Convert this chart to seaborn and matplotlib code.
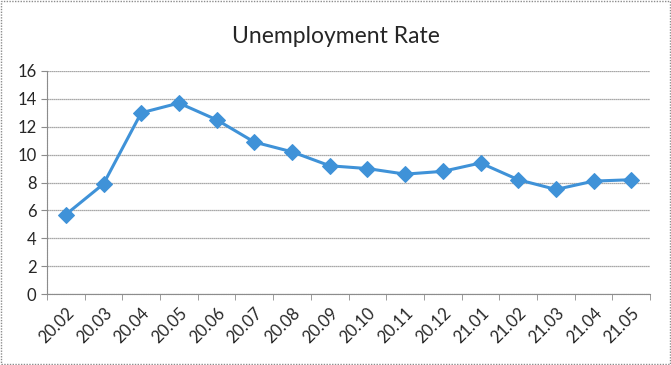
import matplotlib
matplotlib.use('Agg')
import matplotlib.pyplot as plt
import seaborn as sns
import pandas as pd
import numpy as np

months = ['20.02', '20.03', '20.04', '20.05', '20.06', '20.07', '20.08', '20.09',
          '20.10', '20.11', '20.12', '21.01', '21.02', '21.03', '21.04', '21.05']
rate = [5.7, 7.9, 13.0, 13.7, 12.5, 10.9, 10.2, 9.2,
        9.0, 8.6, 8.8, 9.4, 8.2, 7.5, 8.1, 8.2]

sns.set_style('white')
plt.rcParams['font.family'] = ['Lato', 'DejaVu Sans']

df = pd.DataFrame({'pos': np.arange(len(months)), 'rate': rate})

fig = plt.figure(figsize=(6.71, 3.65), dpi=100)
ax = fig.add_axes([0.070, 0.1945, 0.899, 0.611])

sns.lineplot(data=df, x='pos', y='rate', ax=ax, color='#3F92D8', linewidth=2.2,
             marker='D', markersize=8, markeredgecolor='#3F92D8', zorder=3)

ax.set_xlim(-0.5, len(months) - 0.5)
ax.set_ylim(0, 16)
ax.set_yticks(range(0, 17, 2))
ax.yaxis.grid(True, color='#8c8c8c', linewidth=0.9, linestyle=(0, (1, 0.6)))
ax.set_xticks(np.arange(len(months)))
ax.set_xticklabels(months, rotation=45, ha='right', rotation_mode='anchor', fontsize=12)
ax.tick_params(axis='x', length=0, pad=8)
ax.set_xticks(np.arange(-0.5, len(months)), minor=True)
ax.tick_params(axis='x', which='minor', length=4, color='#8c8c8c', direction='out', bottom=True)
ax.tick_params(axis='y', length=4, color='#8c8c8c', direction='out', left=True, labelsize=12)
for s in ['top', 'right']:
    ax.spines[s].set_visible(False)
for s in ['left', 'bottom']:
    ax.spines[s].set_color('#8c8c8c')
    ax.spines[s].set_linestyle((0, (1, 0.6)))
ax.set_xlabel('')
ax.set_ylabel('')

fig.text(0.5, 0.9, 'Unemployment Rate', ha='center', va='center', fontsize=16.5)

border = plt.Rectangle((0.001, 0.002), 0.997, 0.995, transform=fig.transFigure,
                       fill=False, edgecolor='#8c8c8c', linewidth=1, linestyle=(0, (1, 1)))
fig.patches.append(border)

fig.savefig('out.png', dpi=100)
